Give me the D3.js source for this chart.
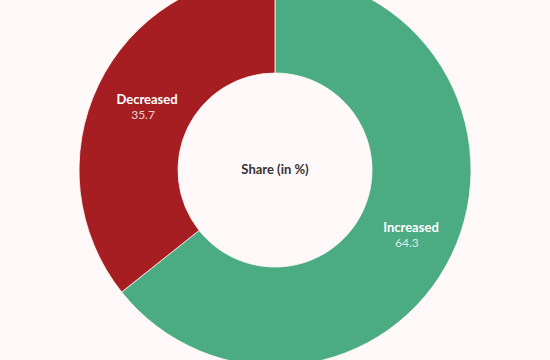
<!DOCTYPE html>
<html>
<head>
<meta charset="utf-8">
<script src="https://cdn.jsdelivr.net/npm/d3@7"></script>
<style>
  html, body { margin: 0; padding: 0; background: #fff8f8; }
  svg { display: block; }
  text { font-family: Lato, "Noto Sans", sans-serif; }
</style>
</head>
<body>
<svg id="chart"></svg>
<script>
const categories = ["Increased", "Decreased"];
const shares = [64.3, 35.7];
const colors = ["#4bab82", "#a61e22"];
const centerTitle = "Share (in %)";

const width = 550, height = 360;
const cx = 275, cy = 170;
const outerR = 196, innerR = 97;

const svg = d3.select("#chart").attr("width", width).attr("height", height);

svg.append("rect").attr("width", width).attr("height", height).attr("fill", "#fff8f8");

const data = categories.map((c, i) => ({ name: c, value: shares[i], color: colors[i] }));

const pie = d3.pie().value(d => d.value).sort(null);
const arc = d3.arc().innerRadius(innerR).outerRadius(outerR);

const g = svg.append("g").attr("transform", `translate(${cx},${cy})`);

const arcs = pie(data);

g.selectAll("path")
  .data(arcs)
  .enter().append("path")
  .attr("d", arc)
  .attr("fill", d => d.data.color)
  .attr("stroke", "#fff8f8")
  .attr("stroke-width", 0.8);

// slice labels
const lbl = g.selectAll("g.lbl")
  .data(arcs)
  .enter().append("g")
  .attr("class", "lbl")
  .attr("transform", d => `translate(${arc.centroid(d)})`);

lbl.append("text")
  .attr("x", 4)
  .attr("y", -2)
  .attr("text-anchor", "middle")
  .attr("fill", "#ffffff")
  .attr("font-size", "13px")
  .attr("font-weight", "bold")
  .text(d => d.data.name);

lbl.append("text")
  .attr("x", 0)
  .attr("y", 13)
  .attr("text-anchor", "middle")
  .attr("fill", "#ffffff")
  .attr("fill-opacity", 0.8)
  .attr("font-size", "12px")
  .text(d => d.data.value.toFixed(1));

g.append("text")
  .attr("y", 4)
  .attr("text-anchor", "middle")
  .attr("fill", "#333333")
  .attr("font-size", "13px")
  .attr("font-weight", "bold")
  .text(centerTitle);
</script>
</body>
</html>
